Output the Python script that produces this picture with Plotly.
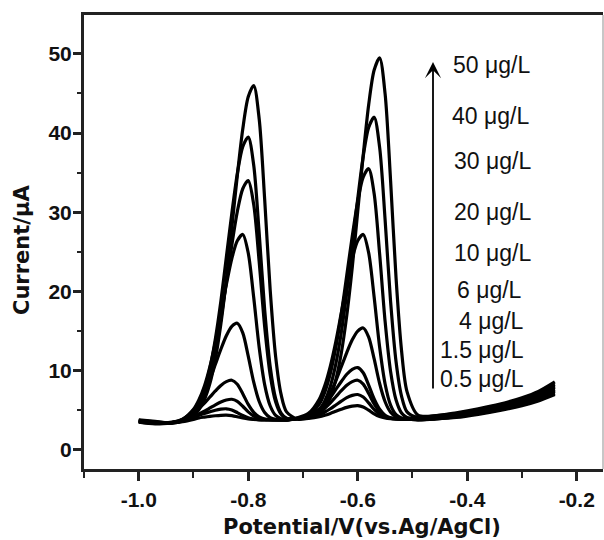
import plotly.graph_objects as go

# ---------------- data ----------------
POTENTIAL = [-1.00, -0.97, -0.94, -0.92,
             -0.90, -0.89, -0.88, -0.87, -0.86, -0.85, -0.84, -0.83, -0.82,
             -0.81, -0.80, -0.79, -0.78, -0.77, -0.76, -0.75, -0.74, -0.73,
             -0.71, -0.69,
             -0.67, -0.66, -0.65, -0.64, -0.63, -0.62, -0.61, -0.60, -0.59,
             -0.58, -0.57, -0.56, -0.55, -0.54, -0.53, -0.52, -0.51,
             -0.49, -0.46, -0.42, -0.38, -0.34, -0.30, -0.27, -0.24]

CONCENTRATIONS = ["0.5 μg/L", "1.5 μg/L", "4 μg/L", "6 μg/L", "10 μg/L",
                  "20 μg/L", "30 μg/L", "40 μg/L", "50 μg/L"]

I_05 = [3.5, 3.3, 3.4, 3.57,
        3.87, 4.05, 4.15, 4.24, 4.32, 4.38, 4.4, 4.34, 4.2, 4.03, 3.91, 3.85, 3.81, 3.8, 3.8, 3.8, 3.8, 3.8,
        3.93, 4.0, 4.21, 4.39, 4.61, 4.88, 5.14, 5.38, 5.54, 5.6, 5.43, 5.02, 4.56, 4.22, 4.03, 3.94, 3.91, 3.9, 3.9,
        3.8, 3.9, 4.1, 4.5, 5.0, 5.6, 6.2, 7.0]
I_15 = [3.55, 3.35, 3.44, 3.65,
        4.1, 4.39, 4.6, 4.82, 5.02, 5.15, 5.2, 5.06, 4.72, 4.35, 4.07, 3.91, 3.83, 3.8, 3.8, 3.8, 3.8, 3.8,
        3.95, 4.09, 4.47, 4.79, 5.2, 5.68, 6.16, 6.6, 6.89, 7.0, 6.69, 5.95, 5.11, 4.49, 4.14, 3.97, 3.92, 3.9, 3.9,
        3.8, 3.9, 4.2, 4.6, 5.1, 5.7, 6.3, 7.2]
I_4 = [3.6, 3.4, 3.44, 3.66,
       4.18, 4.55, 4.89, 5.3, 5.7, 6.06, 6.31, 6.4, 6.14, 5.52, 4.81, 4.29, 4.0, 3.86, 3.82, 3.8, 3.8, 3.8,
       3.97, 4.2, 4.8, 5.31, 5.96, 6.72, 7.48, 8.16, 8.63, 8.8, 8.31, 7.13, 5.81, 4.83, 4.27, 4.02, 3.93, 3.9, 3.9,
       3.9, 4.0, 4.3, 4.7, 5.2, 5.8, 6.5, 7.4]
I_6 = [3.6, 3.4, 3.48, 3.81,
       4.62, 5.24, 5.9, 6.68, 7.45, 8.15, 8.63, 8.8, 8.3, 7.1, 5.75, 4.75, 4.18, 3.92, 3.83, 3.8, 3.8, 3.8,
       4.0, 4.3, 5.09, 5.77, 6.63, 7.64, 8.65, 9.56, 10.18, 10.4, 9.75, 8.19, 6.44, 5.14, 4.39, 4.06, 3.94, 3.9, 3.9,
       3.9, 4.0, 4.3, 4.7, 5.3, 5.9, 6.6, 7.5]
I_10 = [3.65, 3.45, 3.49, 3.88,
        5.03, 6.03, 7.3, 8.92, 10.82, 12.71, 14.41, 15.59, 16.0, 14.78, 11.85, 8.56, 6.12, 4.73, 4.09, 3.87, 3.8, 3.8,
        3.98, 4.26, 5.15, 6.0, 7.2, 8.73, 10.51, 12.3, 13.9, 15.01, 15.4, 14.25, 11.49, 8.39, 6.09, 4.77, 4.18, 3.97, 3.9,
        3.9, 4.1, 4.4, 4.8, 5.4, 6.0, 6.7, 7.7]
I_20 = [3.7, 3.5, 3.47, 3.85,
        5.13, 6.35, 8.08, 10.52, 13.63, 17.26, 20.88, 24.16, 26.4, 27.2, 24.86, 19.24, 12.93, 8.25, 5.58, 4.36, 3.94, 3.82,
        4.06, 4.62, 6.44, 8.16, 10.59, 13.69, 17.3, 20.91, 24.17, 26.41, 27.2, 24.87, 19.28, 12.99, 8.33, 5.67, 4.46, 4.04, 3.9,
        4.0, 4.1, 4.5, 4.9, 5.5, 6.2, 6.9, 7.9]
I_30 = [3.7, 3.5, 3.43, 3.71,
        4.64, 5.64, 7.09, 9.33, 12.47, 16.48, 21.17, 25.85, 30.07, 32.97, 34.0, 30.98, 23.73, 15.58, 9.54, 6.1, 4.52, 3.98,
        3.99, 4.37, 5.83, 7.34, 9.68, 12.97, 17.17, 22.07, 26.97, 31.39, 34.43, 35.5, 32.34, 24.76, 16.22, 9.9, 6.3, 4.66, 4.09,
        4.0, 4.2, 4.5, 5.0, 5.6, 6.3, 7.0, 8.1]
I_40 = [3.75, 3.55, 3.44, 3.75,
        4.81, 5.98, 7.69, 10.33, 14.05, 18.79, 24.33, 29.86, 34.86, 38.29, 39.5, 35.93, 27.36, 17.72, 10.58, 6.51, 4.66, 4.01,
        3.94, 4.17, 5.08, 6.22, 8.05, 10.87, 14.83, 19.9, 25.81, 31.71, 37.05, 40.7, 42.0, 38.19, 29.05, 18.76, 11.14, 6.8, 4.81,
        4.1, 4.3, 4.6, 5.1, 5.7, 6.4, 7.2, 8.3]
I_50 = [3.8, 3.6, 3.4, 3.63,
        4.33, 5.11, 6.37, 8.4, 11.52, 15.91, 21.52, 28.07, 34.61, 40.51, 44.57, 46.0, 41.78, 31.65, 20.26, 11.82, 7.01, 4.81,
        3.9, 4.04, 4.58, 5.31, 6.68, 8.87, 12.24, 16.99, 23.05, 30.12, 37.19, 43.57, 47.95, 49.5, 44.94, 34.0, 21.68, 12.56, 7.37,
        4.4, 4.3, 4.7, 5.2, 5.8, 6.6, 7.4, 8.6]

CURRENTS = [I_05, I_15, I_4, I_6, I_10, I_20, I_30, I_40, I_50]

X_TICKS = [-1.0, -0.8, -0.6, -0.4, -0.2]
X_TICK_TEXT = ["-1.0", "-0.8", "-0.6", "-0.4", "-0.2"]
X_MINOR = [-1.1, -0.9, -0.7, -0.5, -0.3]
Y_TICKS = [0, 10, 20, 30, 40, 50]
Y_TICK_TEXT = ["0", "10", "20", "30", "40", "50"]
Y_MINOR = [5, 15, 25, 35, 45]

# ---------------- figure ----------------
W, H = 604, 540
ML, MR, MT, MB = 84, 1, 15, 71
PW, PH = W - ML - MR, H - MT - MB


def px(xp):
    return (xp - ML) / PW


def py(yp):
    return (H - MB - yp) / PH


fig = go.Figure()
for name, cur in zip(CONCENTRATIONS, CURRENTS):
    fig.add_trace(go.Scatter(
        x=POTENTIAL, y=cur, mode="lines", name=name,
        line=dict(color="black", width=3.2, shape="spline", smoothing=0.8),
        showlegend=False, hoverinfo="skip"))

tick_font = dict(family="Liberation Sans, Arial, sans-serif", size=21,
                 color="#111111", weight="bold")
axis_color = "#222222"

fig.update_xaxes(
    range=[-1.1, -0.152], tickvals=X_TICKS, ticktext=X_TICK_TEXT,
    ticks="outside", ticklen=9, tickwidth=2.5, tickcolor=axis_color,
    showline=True, linecolor=axis_color, linewidth=3, mirror=True,
    showgrid=False, zeroline=False, tickfont=tick_font,
    ticklabelstandoff=1,
    minor=dict(tickvals=X_MINOR, ticks="outside", ticklen=6, tickwidth=2,
               tickcolor=axis_color, showgrid=False))
fig.update_yaxes(
    range=[-2.4, 54.9], tickvals=Y_TICKS, ticktext=Y_TICK_TEXT,
    ticks="outside", ticklen=8, tickwidth=2.5, tickcolor=axis_color,
    showline=True, linecolor=axis_color, linewidth=3, mirror=False,
    showgrid=False, zeroline=False, tickfont=tick_font,
    ticklabelstandoff=-3,
    minor=dict(tickvals=Y_MINOR, ticks="outside", ticklen=4, tickwidth=2,
               tickcolor=axis_color, showgrid=False))

# right frame line (lighter)
fig.add_shape(type="line", xref="paper", yref="paper", x0=1, x1=1, y0=0, y1=1,
              line=dict(color="#b5b5b5", width=1.5))

title_font = dict(family="DejaVu Sans, sans-serif", size=21, color="#111111",
                  weight="bold")
fig.add_annotation(text="Current/μA", xref="paper", yref="paper",
                   x=px(22), y=py(250), textangle=-90, showarrow=False,
                   xanchor="center", yanchor="middle", font=title_font)
fig.add_annotation(text="Potential/V(vs.Ag/AgCl)", xref="paper", yref="paper",
                   x=px(362), y=py(527), showarrow=False,
                   xanchor="center", yanchor="middle", font=title_font)

# concentration labels
label_font = dict(family="Liberation Sans, Arial, sans-serif", size=23,
                  color="#111111")
LABEL_POS = {"50 μg/L": (451, 65), "40 μg/L": (450, 116), "30 μg/L": (452, 161),
             "20 μg/L": (452, 212), "10 μg/L": (452, 253), "6 μg/L": (455, 290),
             "4 μg/L": (457, 321), "1.5 μg/L": (438, 350), "0.5 μg/L": (438, 379)}
for name in CONCENTRATIONS:
    lx, ly = LABEL_POS[name]
    fig.add_annotation(text=name, xref="paper", yref="paper", x=px(lx), y=py(ly),
                       showarrow=False, xanchor="left", yanchor="middle",
                       font=label_font)

# arrow
fig.add_annotation(text="", xref="paper", yref="paper", x=px(433), y=py(62),
                   ax=0, ay=328, showarrow=True, arrowhead=3, arrowsize=1.5,
                   arrowwidth=1.8, arrowcolor="black", standoff=0,
                   startstandoff=0)

fig.update_layout(
    width=W, height=H, margin=dict(l=ML, r=MR, t=MT, b=MB),
    paper_bgcolor="white", plot_bgcolor="white", showlegend=False)

fig.write_html("out.html", config={"displayModeBar": False},
               post_script="document.body.style.margin='0';"
                           "document.body.style.overflow='hidden';")
